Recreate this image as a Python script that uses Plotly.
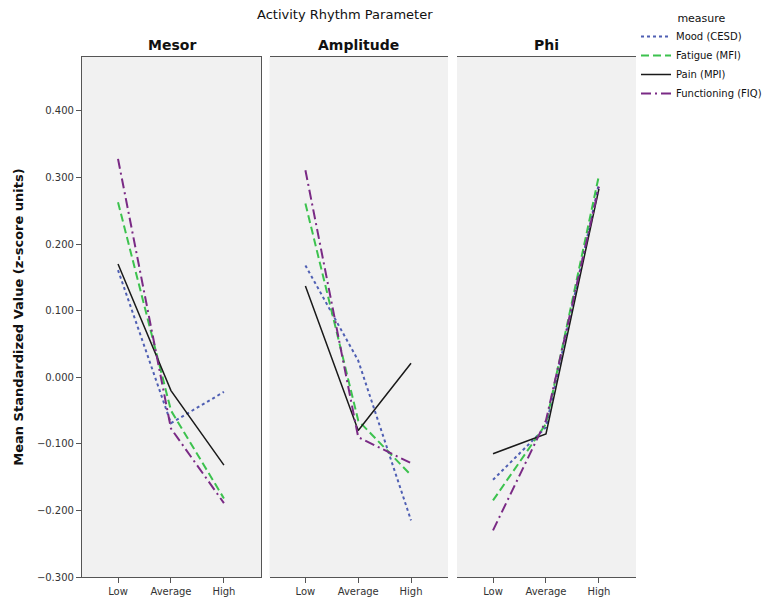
import plotly.graph_objects as go

categories = ["Low", "Average", "High"]
panels = ["Mesor", "Amplitude", "Phi"]
measures = ["Mood (CESD)", "Fatigue (MFI)", "Pain (MPI)", "Functioning (FIQ)"]

mesor = {
    "Mood (CESD)": [0.161, -0.069, -0.022],
    "Fatigue (MFI)": [0.263, -0.050, -0.182],
    "Pain (MPI)": [0.170, -0.020, -0.132],
    "Functioning (FIQ)": [0.328, -0.077, -0.189],
}
amplitude = {
    "Mood (CESD)": [0.168, 0.025, -0.215],
    "Fatigue (MFI)": [0.261, -0.065, -0.147],
    "Pain (MPI)": [0.137, -0.080, 0.021],
    "Functioning (FIQ)": [0.311, -0.090, -0.129],
}
phi = {
    "Mood (CESD)": [-0.154, -0.075, 0.291],
    "Fatigue (MFI)": [-0.185, -0.070, 0.303],
    "Pain (MPI)": [-0.115, -0.085, 0.283],
    "Functioning (FIQ)": [-0.230, -0.065, 0.286],
}
data = [mesor, amplitude, phi]

styles = {
    "Mood (CESD)": dict(color="#4F5FB3", dash="dot", width=2),
    "Fatigue (MFI)": dict(color="#3CC24E", dash="8px,4px", width=2),
    "Pain (MPI)": dict(color="#1a1a1a", dash="solid", width=1.5),
    "Functioning (FIQ)": dict(color="#7A2A85", dash="10px,4px,2px,4px", width=2),
}

FONT = "DejaVu Sans"
fig = go.Figure()

# page body has an 8px margin; figure is sized to fit the 774x608 window
OFF = 8
W, H = 774 - OFF, 608 - OFF
ml, mt = 82 - OFF, 57 - OFF
pw, ph = 554, 520
mr, mb = W - ml - pw, H - mt - ph
px = [(82, 261), (269.5, 448), (457, 636)]
domains = [[(a - 82) / pw, (b - 82) / pw] for a, b in px]

for i, d in enumerate(data):
    xa = "x" if i == 0 else f"x{i+1}"
    for m in measures:
        fig.add_trace(go.Scatter(
            x=[0, 1, 2], y=d[m], mode="lines", name=m,
            line=styles[m], xaxis=xa, yaxis="y",
            showlegend=(i == 0), legendgroup=m,
        ))

axis_common = dict(
    showgrid=False, zeroline=False, showline=True, linecolor="#555555",
    linewidth=1.2, mirror=True, ticks="outside", ticklen=5, tickcolor="#555555",
    tickfont=dict(family=FONT, size=10, color="#333333"),
)

layout = dict(
    width=W, height=H,
    margin=dict(l=ml, r=mr, t=mt, b=mb, autoexpand=False),
    paper_bgcolor="white", plot_bgcolor="#F1F1F1",
    font=dict(family=FONT, color="#111111"),
    yaxis=dict(range=[-0.3, 0.481], tickvals=[-0.3, -0.2, -0.1, 0, 0.1, 0.2, 0.3, 0.4],
               tickformat=".3f", automargin=False,
               title=dict(text="<b>Mean Standardized Value (z-score units)</b>",
               font=dict(family=FONT, size=13), standoff=10), **axis_common),
    legend=dict(x=1.0, xanchor="left", y=1.095, yanchor="top",
                title=dict(text="measure", side="top center", font=dict(family=FONT, size=11)),
                font=dict(family=FONT, size=10), tracegroupgap=0, itemwidth=30,
                bgcolor="rgba(0,0,0,0)"),
)
for i in range(3):
    key = "xaxis" if i == 0 else f"xaxis{i+1}"
    layout[key] = dict(domain=domains[i], range=[-0.68, 2.70], tickvals=[0, 1, 2],
                       ticktext=categories, anchor="y", automargin=False, **axis_common)

annotations = [dict(text="Activity Rhythm Parameter", x=(ml + pw / 2 + 12) / W, y=1, xref="paper", yref="paper",
                    xanchor="center", yanchor="bottom", yshift=33, showarrow=False,
                    font=dict(family=FONT, size=13, color="#111111"))]
for i, p in enumerate(panels):
    annotations.append(dict(text=f"<b>{p}</b>", x=sum(domains[i]) / 2, y=1, xref="paper", yref="paper",
                            xanchor="center", yanchor="bottom", yshift=2, showarrow=False,
                            font=dict(family=FONT, size=14, color="#111111")))
layout["annotations"] = annotations

fig.update_layout(**layout)
fig.write_html("out.html")
